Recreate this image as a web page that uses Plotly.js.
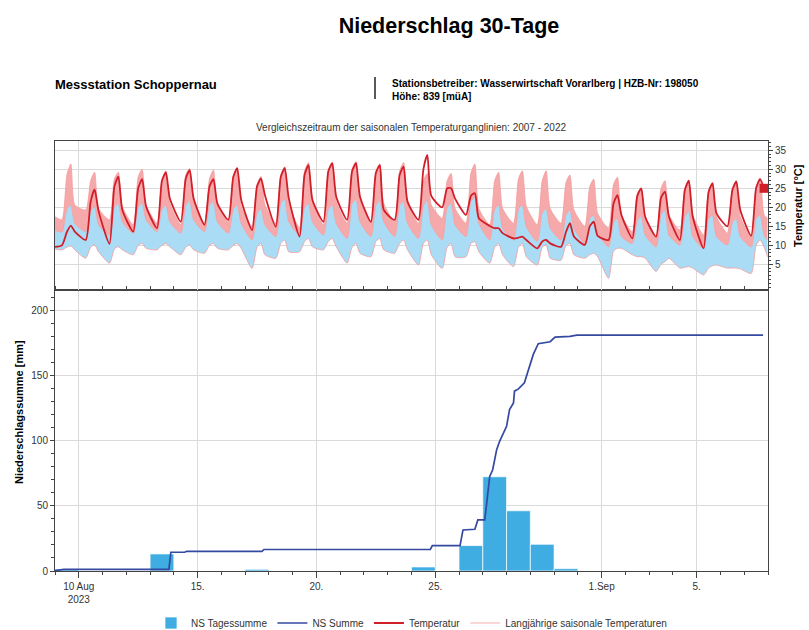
<!DOCTYPE html>
<html>
<head>
<meta charset="utf-8">
<script src="https://cdn.plot.ly/plotly-3.0.1.min.js"></script>
<style>html,body{margin:0;padding:0;background:#fff;}#chart{width:809px;height:630px;}</style>
</head>
<body>
<div id="chart"></div>
<script>
// ---------- DATA ----------
const days = ['2023-08-09','2023-08-10','2023-08-11','2023-08-12','2023-08-13','2023-08-14','2023-08-15','2023-08-16','2023-08-17','2023-08-18',
              '2023-08-19','2023-08-20','2023-08-21','2023-08-22','2023-08-23','2023-08-24','2023-08-25','2023-08-26','2023-08-27','2023-08-28',
              '2023-08-29','2023-08-30','2023-08-31','2023-09-01','2023-09-02','2023-09-03','2023-09-04','2023-09-05','2023-09-06','2023-09-07'];
const slotHours = ['07:00','12:00','16:00','20:00'];   // morning minimum, noon, afternoon maximum, evening

// long-term seasonal band: upper edge (pink top)
const upMin  = [16.7,19.3,16.7,15.4,15.8,15.4,15.8,16.2,14.9,15.8,14.5,15.4,15.8,16.2,16.2,15.8,17.1,15.8,15.4,15.8,15.4,15.8,15.0,14.5,13.6,12.0,14.0,12.7,13.2,12.3];
const upNoon = [28.5,27.0,27.5,28.0,27.0,28.5,27.5,28.0,26.0,28.5,29.5,29.5,30.0,29.0,29.5,27.0,27.0,29.0,27.0,27.5,27.0,26.5,25.5,26.0,23.5,25.0,25.0,24.5,25.0,25.5];
const upMax  = [31.4,29.2,29.2,30.0,29.6,30.2,29.8,30.3,28.1,30.7,31.8,31.8,32.0,31.4,31.8,28.9,28.9,31.4,29.2,29.6,29.6,28.5,27.4,27.9,25.0,27.0,27.0,26.5,26.8,27.6];
const upEve  = [20.6,19.7,20.2,20.6,21.0,21.5,20.6,20.2,20.6,21.0,21.5,21.5,21.9,21.0,21.0,20.6,19.7,19.7,19.7,20.2,19.7,19.3,18.4,18.0,17.1,18.0,18.0,17.5,17.5,18.0];
// middle edge (blue top)
const midMin  = [13.5,13.6,12.7,13.2,13.6,13.2,13.6,13.2,11.4,12.3,12.7,12.7,11.8,12.3,12.3,11.8,11.4,12.3,11.4,11.4,11.0,11.4,10.5,9.6,10.5,9.6,10.1,9.2,10.1,9.6];
const midNoon = [19.5,19.0,20.0,20.0,19.5,20.5,20.5,19.5,18.5,21.0,20.0,19.5,21.0,20.5,20.5,20.5,20.0,21.5,19.5,19.5,18.5,18.0,17.0,16.0,16.5,18.0,17.5,17.0,16.0,17.0];
const midMax  = [20.6,20.2,21.0,21.2,20.6,21.7,21.5,20.6,19.7,22.1,21.0,20.6,22.1,21.7,21.5,21.9,21.0,22.6,20.6,20.6,19.7,19.3,18.0,17.1,17.7,19.3,18.9,18.0,17.1,18.0];
const midEve  = [15.8,15.4,16.2,16.7,16.2,16.7,16.2,15.8,15.4,16.2,16.2,15.8,16.2,16.2,15.8,15.4,15.4,15.8,14.5,14.9,14.5,14.5,13.2,12.3,12.7,12.7,12.3,12.3,12.3,12.7];
// lower edge (blue bottom)
const lowMin  = [8.8,6.6,5.3,7.5,8.8,7.5,7.9,8.8,3.9,6.6,8.3,8.8,5.3,7.0,7.9,4.8,3.9,7.0,5.3,4.4,4.8,6.1,6.6,1.3,7.5,3.1,4.0,2.2,4.0,2.6];
const lowNoon = [9.5,9.5,9.0,10.0,10.0,9.5,10.0,10.0,9.5,10.5,11.0,11.0,9.5,11.0,10.5,10.5,9.5,10.5,9.5,9.5,9.5,10.0,7.5,8.5,7.0,5.0,4.2,4.0,4.0,10.0];
const lowMax  = [9.8,10.1,9.6,10.5,10.5,10.1,10.5,10.5,10.5,11.4,11.8,11.8,10.5,11.8,11.4,11.4,10.5,11.0,10.5,10.5,10.1,10.5,7.9,9.2,7.0,5.7,4.4,4.6,4.0,11.4];
const lowEve  = [8.8,8.3,8.8,9.2,9.6,8.8,9.2,9.2,7.5,8.3,9.6,9.6,7.9,8.8,8.8,7.5,7.0,8.3,7.5,7.0,6.6,7.5,7.0,9.2,6.6,6.6,4.0,4.8,3.8,9.6];
const bandStartTime = '2023-08-09 00:00', bandEndTime = '2023-09-07 23:30';
const upStart = 17.5, midStart = 14.0, lowStart = 9.0;
const upEnd = 17.1, midEnd = 11.4, lowEnd = 7.0;

// measured temperature
const tMin  = [10.0,11.4,10.4,13.6,14.5,16.2,15.4,16.7,14.0,14.9,12.3,16.2,16.7,16.2,16.7,16.7,20.0,18.0,15.1,11.8,9.2,9.6,10.1,11.4,11.8,12.3,11.4,9.2,15.0,12.5];
const tNoon = [13.5,21.5,25.5,25.0,27.0,27.5,25.5,28.0,25.5,28.0,28.5,29.5,29.5,29.0,28.5,30.0,25.0,23.0,14.5,12.0,11.0,13.5,15.0,21.0,23.0,22.5,24.5,24.0,24.5,25.0];
const tMax  = [15.2,24.7,28.1,27.4,29.2,29.8,27.4,30.3,27.6,30.3,31.1,31.6,31.6,31.1,30.7,33.8,25.0,23.7,14.5,12.3,11.4,15.8,16.2,23.2,25.0,24.1,27.0,26.3,26.8,27.4];
const tEve  = [13.6,19.0,19.3,20.2,22.3,22.3,21.0,22.0,23.2,22.5,21.9,22.8,22.8,19.3,21.5,23.0,22.3,17.1,13.2,11.4,10.5,12.3,12.5,18.0,17.5,17.5,17.5,18.4,19.3,25.0];
const tStart = 9.6;

// daily precipitation
const rainDays = ['2023-08-09','2023-08-13','2023-08-17','2023-08-24','2023-08-26','2023-08-27','2023-08-28','2023-08-29','2023-08-30'];
const rainMm   = [1.5, 13.1, 1.3, 3.1, 19.5, 72.3, 46.2, 20.5, 1.8];

// cumulative precipitation
const sumTimes = ['2023-08-09 00:00','2023-08-09 09:00','2023-08-13 19:00','2023-08-13 21:00','2023-08-14 11:00','2023-08-14 13:00',
  '2023-08-17 17:00','2023-08-17 19:00','2023-08-24 19:00','2023-08-24 21:00','2023-08-26 01:00','2023-08-26 04:00',
  '2023-08-26 16:00','2023-08-26 19:00','2023-08-27 02:00','2023-08-27 07:00','2023-08-27 10:00','2023-08-27 14:00',
  '2023-08-27 17:00','2023-08-28 00:00','2023-08-28 03:00','2023-08-28 07:00','2023-08-28 08:00','2023-08-28 12:00',
  '2023-08-28 18:00','2023-08-28 22:00','2023-08-29 03:00','2023-08-29 08:00','2023-08-29 20:00','2023-08-30 01:00',
  '2023-08-30 16:00','2023-08-30 23:00','2023-09-07 19:00'];
const sumMm = [0.3,1.3,1.3,14.4,14.4,15.1,15.1,16.5,16.5,19.5,19.5,31.5,32.0,39.2,39.2,72.6,77.7,93.1,99.5,111.0,123.8,129.0,
  138.0,139.7,144.4,153.3,166.2,174.4,175.9,179.5,180.0,181.0,181.0];

// axis ticks
const xTickVals = ['2023-08-10','2023-08-15','2023-08-20','2023-08-25','2023-09-01','2023-09-05'];
const xTickText = ['10 Aug<br>2023','15.','20.','25.','1.Sep','5.'];
const tempTicks = [5,10,15,20,25,30,35];
const rainTicks = [0,50,100,150,200];

// ---------- BUILD ----------
function daily(slots, startV, endV, withEnd) {
  const x = [bandStartTime], y = [startV];
  days.forEach((d, i) => {
    slots.forEach((arr, k) => { x.push(d + ' ' + slotHours[k]); y.push(arr[i]); });
  });
  if (withEnd) { x.push(bandEndTime); y.push(endV); }
  return {x, y};
}
const low  = daily([lowMin, lowNoon, lowMax, lowEve], lowStart, lowEnd, true);
const mid  = daily([midMin, midNoon, midMax, midEve], midStart, midEnd, true);
const up   = daily([upMin, upNoon, upMax, upEve], upStart, upEnd, true);
const temp = daily([tMin, tNoon, tMax, tEve], tStart, null, false);

const FONT = 'Liberation Sans, Arial, sans-serif';
const edge = '#f29a9a';
const SM = 0.6;
const traces = [
  {type:'bar', x:rainDays, y:rainMm, name:'NS Tagessumme', xperiod:86400000, xperiodalignment:'middle',
   marker:{color:'#3fade2', line:{color:'rgba(255,255,255,0.7)', width:1}}, xaxis:'x', yaxis:'y', legendrank:1, hoverinfo:'skip'},
  {type:'scatter', mode:'lines', x:sumTimes, y:sumMm, name:'NS Summe', line:{color:'#3449a0', width:1.7},
   xaxis:'x', yaxis:'y', legendrank:2},
  {type:'scatter', mode:'lines', x:low.x, y:low.y, name:'Langjährige saisonale Temperaturen', legendgroup:'band',
   line:{color:edge, width:0.8, shape:'spline', smoothing:SM}, xaxis:'x', yaxis:'y2', legendrank:4},
  {type:'scatter', mode:'lines', x:mid.x, y:mid.y, fill:'tonexty', fillcolor:'#aadcf5', legendgroup:'band', showlegend:false,
   line:{color:edge, width:0.8, shape:'spline', smoothing:SM}, xaxis:'x', yaxis:'y2'},
  {type:'scatter', mode:'lines', x:up.x, y:up.y, fill:'tonexty', fillcolor:'#f6a9ab', legendgroup:'band', showlegend:false,
   line:{color:edge, width:0.8, shape:'spline', smoothing:SM}, xaxis:'x', yaxis:'y2'},
  {type:'scatter', mode:'lines', x:temp.x, y:temp.y, name:'Temperatur', line:{color:'#d11f2a', width:1.8, shape:'spline', smoothing:SM},
   xaxis:'x', yaxis:'y2', legendrank:3},
  {type:'scatter', mode:'markers', x:[temp.x[temp.x.length-1]], y:[temp.y[temp.y.length-1]], showlegend:false,
   marker:{symbol:'square', size:9, color:'#d11f2a'}, xaxis:'x', yaxis:'y2'}
];

// pixel helpers for header placement (plot area 55..768 x 141..571)
const L = 55, R = 768, T = 141, B = 571;
const px = x => (x - L) / (R - L);
const py = y => (B - y) / (B - T);
const split = (B - 290) / (B - T);

const layout = {
  width:809, height:630,
  margin:{l:L, r:809-R, t:T, b:630-B, pad:0},
  paper_bgcolor:'#fff', plot_bgcolor:'#fff',
  font:{family:FONT, size:10, color:'#333'},
  showlegend:true,
  bargap:0,
  title:{text:'Niederschlag 30-Tage', font:{family:FONT, size:21.5, weight:700, color:'#000'},
         xref:'container', x:449/809, xanchor:'center', yref:'container', y:1-25/630, yanchor:'middle'},
  xaxis:{type:'date', range:['2023-08-09 00:00','2023-09-08 00:00'], tickmode:'array', tickvals:xTickVals, ticktext:xTickText,
         ticks:'outside', ticklen:6, tickcolor:'#444', showline:true, linecolor:'#444', linewidth:1, mirror:'all',
         showgrid:true, gridcolor:'#dadada', zeroline:false, tickfont:{size:10, color:'#333'},
         minor:{tickmode:'linear', tick0:'2023-08-09', dtick:86400000, ticks:'outside', ticklen:3, tickcolor:'#444', showgrid:false},
         anchor:'y'},
  yaxis:{domain:[0, split], range:[0, 215.6], tickmode:'array', tickvals:rainTicks, ticks:'outside', ticklen:4, tickcolor:'#444',
         showline:true, linecolor:'#444', mirror:true, gridcolor:'#dadada', zeroline:false, tickfont:{size:10, color:'#333'},
         minor:{dtick:10, ticks:'outside', ticklen:3, tickcolor:'#444', showgrid:false}},
  yaxis2:{domain:[split, 1], anchor:'x', side:'right', range:[-1.76, 37.45], tickmode:'array', tickvals:tempTicks,
          ticks:'outside', ticklen:4, tickcolor:'#444', showline:true, linecolor:'#444', mirror:true, gridcolor:'#dadada',
          zeroline:false, tickfont:{size:10, color:'#333'},
          minor:{dtick:1, ticks:'outside', ticklen:2, tickcolor:'#444', showgrid:false}},
  legend:{orientation:'h', xref:'paper', x:0.5, xanchor:'center', yref:'container', y:(630-623)/630, yanchor:'middle',
          font:{family:FONT, size:10, color:'#333'}, bgcolor:'rgba(0,0,0,0)', traceorder:'normal'},
  annotations:[
    {text:'Messstation Schoppernau', xref:'paper', yref:'paper', x:px(53), y:py(85), xanchor:'left', yanchor:'middle',
     showarrow:false, font:{family:FONT, size:13, weight:700, color:'#000'}},
    {text:'Stationsbetreiber: Wasserwirtschaft Vorarlberg | HZB-Nr: 198050', xref:'paper', yref:'paper', x:px(390), y:py(83),
     xanchor:'left', yanchor:'middle', showarrow:false, font:{family:FONT, size:10, weight:700, color:'#000'}},
    {text:'Höhe: 839 [müA]', xref:'paper', yref:'paper', x:px(390), y:py(96), xanchor:'left', yanchor:'middle',
     showarrow:false, font:{family:FONT, size:10, weight:700, color:'#000'}},
    {text:'Vergleichszeitraum der saisonalen Temperaturganglinien: 2007 - 2022', xref:'paper', yref:'paper', x:px(411), y:py(127),
     xanchor:'center', yanchor:'middle', showarrow:false, font:{family:FONT, size:10, color:'#333'}},
    {text:'Niederschlagssumme [mm]', xref:'paper', yref:'paper', x:px(19), y:py(412), xanchor:'center', yanchor:'middle',
     textangle:-90, showarrow:false, font:{family:FONT, size:11, weight:700, color:'#000'}},
    {text:'Temperatur [°C]', xref:'paper', yref:'paper', x:px(798), y:py(206), xanchor:'center', yanchor:'middle',
     textangle:-90, showarrow:false, font:{family:FONT, size:11, weight:700, color:'#000'}}
  ],
  shapes:[
    {type:'line', xref:'paper', yref:'paper', x0:px(375), x1:px(375), y0:py(77), y1:py(99), line:{color:'#222', width:1.5}}
  ]
};

Plotly.newPlot('chart', traces, layout, {displayModeBar:false, staticPlot:true});
</script>
</body>
</html>
